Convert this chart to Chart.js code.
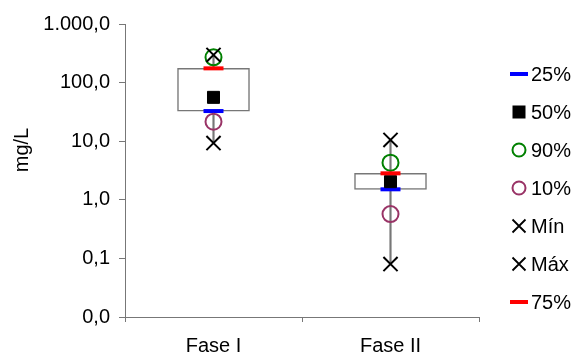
<!DOCTYPE html>
<html>
<head>
<meta charset="utf-8">
<script src="https://cdn.jsdelivr.net/npm/chart.js@4/dist/chart.umd.min.js"></script>
<style>
  html, body { margin: 0; padding: 0; background: #fff; }
  #wrap { width: 578px; height: 356px; }
</style>
</head>
<body>
<div id="wrap"><canvas id="c" width="578" height="356"></canvas></div>
<script>
// Concentration summary per phase (mg/L)
const categories = ['Fase I', 'Fase II'];
const p25  = [32.7, 1.51];
const p50  = [56, 2.04];
const p75  = [175, 2.83];
const p90  = [270, 4.3];
const p10  = [21.5, 0.57];
const minV = [9.3, 0.08];
const maxV = [296, 10.5];
const yTicks = [0.01, 0.1, 1, 10, 100, 1000];
const yTitle = 'mg/L';

const FONT = "'Liberation Sans', Arial, sans-serif";
const AXIS = '#777777';

// 1.000,0 style number format
function fmt(v) {
  const s = v.toFixed(1);
  const [ip, dp] = s.split('.');
  return ip.replace(/\B(?=(\d{3})+(?!\d))/g, '.') + ',' + dp;
}

function marker(label, data, style, color, opts, order) {
  return Object.assign({
    type: 'line', label, data, showLine: false, order,
    pointStyle: style, borderColor: color, backgroundColor: color,
    pointBorderColor: color, pointBackgroundColor: color,
    pointHoverRadius: opts.pointRadius
  }, opts);
}

const markerSets = [
  marker('25%', p25, 'line', '#0000ff', {pointRadius: 10, pointBorderWidth: 4, legend: {w: 18, lw: 4}}, 7),
  marker('50%', p50, 'rect', '#000000', {pointRadius: 8.5, pointBorderWidth: 1, legend: {w: 13}}, 6),
  marker('90%', p90, 'circle', '#008000', {pointRadius: 8, pointBorderWidth: 2, pointBackgroundColor: 'rgba(0,0,0,0)', legend: {r: 6.5, lw: 2}}, 5),
  marker('10%', p10, 'circle', '#993366', {pointRadius: 8, pointBorderWidth: 2, pointBackgroundColor: 'rgba(0,0,0,0)', legend: {r: 6.5, lw: 2}}, 4),
  marker('Mín', minV, 'crossRot', '#000000', {pointRadius: 10, pointBorderWidth: 2, legend: {h: 6.5, lw: 1.8}}, 3),
  marker('Máx', maxV, 'crossRot', '#000000', {pointRadius: 10, pointBorderWidth: 2, legend: {h: 6.5, lw: 1.8}}, 2),
  marker('75%', p75, 'line', '#ff0000', {pointRadius: 10, pointBorderWidth: 4, legend: {w: 18, lw: 4}}, 1)
];

// Legend at the right, drawn item by item
const sideLegend = {
  id: 'sideLegend',
  afterDraw(chart) {
    const ctx = chart.ctx;
    const x0 = 519, y0 = 74, step = 38;
    ctx.save();
    ctx.font = '20px ' + FONT;
    ctx.textBaseline = 'middle';
    ctx.textAlign = 'left';
    markerSets.forEach((ds, i) => {
      const y = y0 + i * step;
      const L = ds.legend;
      ctx.strokeStyle = ds.borderColor;
      ctx.fillStyle = ds.borderColor;
      ctx.beginPath();
      if (ds.pointStyle === 'line') {
        ctx.lineWidth = L.lw;
        ctx.moveTo(x0 - L.w / 2, y); ctx.lineTo(x0 + L.w / 2, y); ctx.stroke();
      } else if (ds.pointStyle === 'rect') {
        ctx.fillRect(x0 - L.w / 2, y - L.w / 2, L.w, L.w);
      } else if (ds.pointStyle === 'circle') {
        ctx.lineWidth = L.lw;
        ctx.arc(x0, y, L.r, 0, Math.PI * 2); ctx.stroke();
      } else {
        ctx.lineWidth = L.lw;
        ctx.moveTo(x0 - L.h, y - L.h); ctx.lineTo(x0 + L.h, y + L.h);
        ctx.moveTo(x0 - L.h, y + L.h); ctx.lineTo(x0 + L.h, y - L.h);
        ctx.stroke();
      }
      ctx.fillStyle = '#000';
      ctx.fillText(ds.label, 531, y + 1);
    });
    ctx.restore();
  }
};

// Vertical axis title
const axisTitle = {
  id: 'axisTitle',
  afterDraw(chart) {
    const ctx = chart.ctx;
    ctx.save();
    ctx.translate(22, 150);
    ctx.rotate(-Math.PI / 2);
    ctx.font = '20px ' + FONT;
    ctx.fillStyle = '#000';
    ctx.textAlign = 'center';
    ctx.textBaseline = 'middle';
    ctx.fillText(yTitle, 0, 0);
    ctx.restore();
  }
};

Chart.defaults.font.family = FONT;
Chart.defaults.font.size = 20;
Chart.defaults.color = '#000';

new Chart(document.getElementById('c'), {
  type: 'bar',
  data: {
    labels: categories,
    datasets: [
      ...markerSets,
      {
        label: 'box', data: categories.map((c, i) => [p25[i], p75[i]]),
        backgroundColor: '#ffffff', borderColor: AXIS, borderWidth: 1.5,
        borderSkipped: false, barThickness: 72, grouped: false, order: 8
      },
      {
        label: 'whisker', data: categories.map((c, i) => [minV[i], maxV[i]]),
        backgroundColor: AXIS, borderWidth: 0,
        barThickness: 1.5, grouped: false, order: 9
      }
    ]
  },
  options: {
    responsive: false,
    animation: false,
    layout: { padding: { left: 0, right: 99, top: 24, bottom: 0 } },
    plugins: { legend: { display: false }, tooltip: { enabled: false } },
    scales: {
      x: {
        offset: true,
        grid: { offset: true, drawOnChartArea: false, tickLength: 5, color: AXIS, tickColor: AXIS },
        border: { color: AXIS, width: 1 },
        ticks: { padding: 12, font: { size: 20 } },
        afterFit(s) { s.height = 39; }
      },
      y: {
        type: 'logarithmic',
        min: 0.01, max: 1000,
        grid: { drawOnChartArea: false, tickLength: 6, color: AXIS, tickColor: AXIS },
        border: { color: AXIS, width: 1 },
        afterBuildTicks(s) { s.ticks = yTicks.map(v => ({ value: v, major: false })); },
        ticks: { padding: 9, autoSkip: false, callback: v => fmt(v), font: { size: 20 } },
        afterFit(s) { s.width = 125; }
      }
    }
  },
  plugins: [sideLegend, axisTitle]
});
</script>
</body>
</html>
